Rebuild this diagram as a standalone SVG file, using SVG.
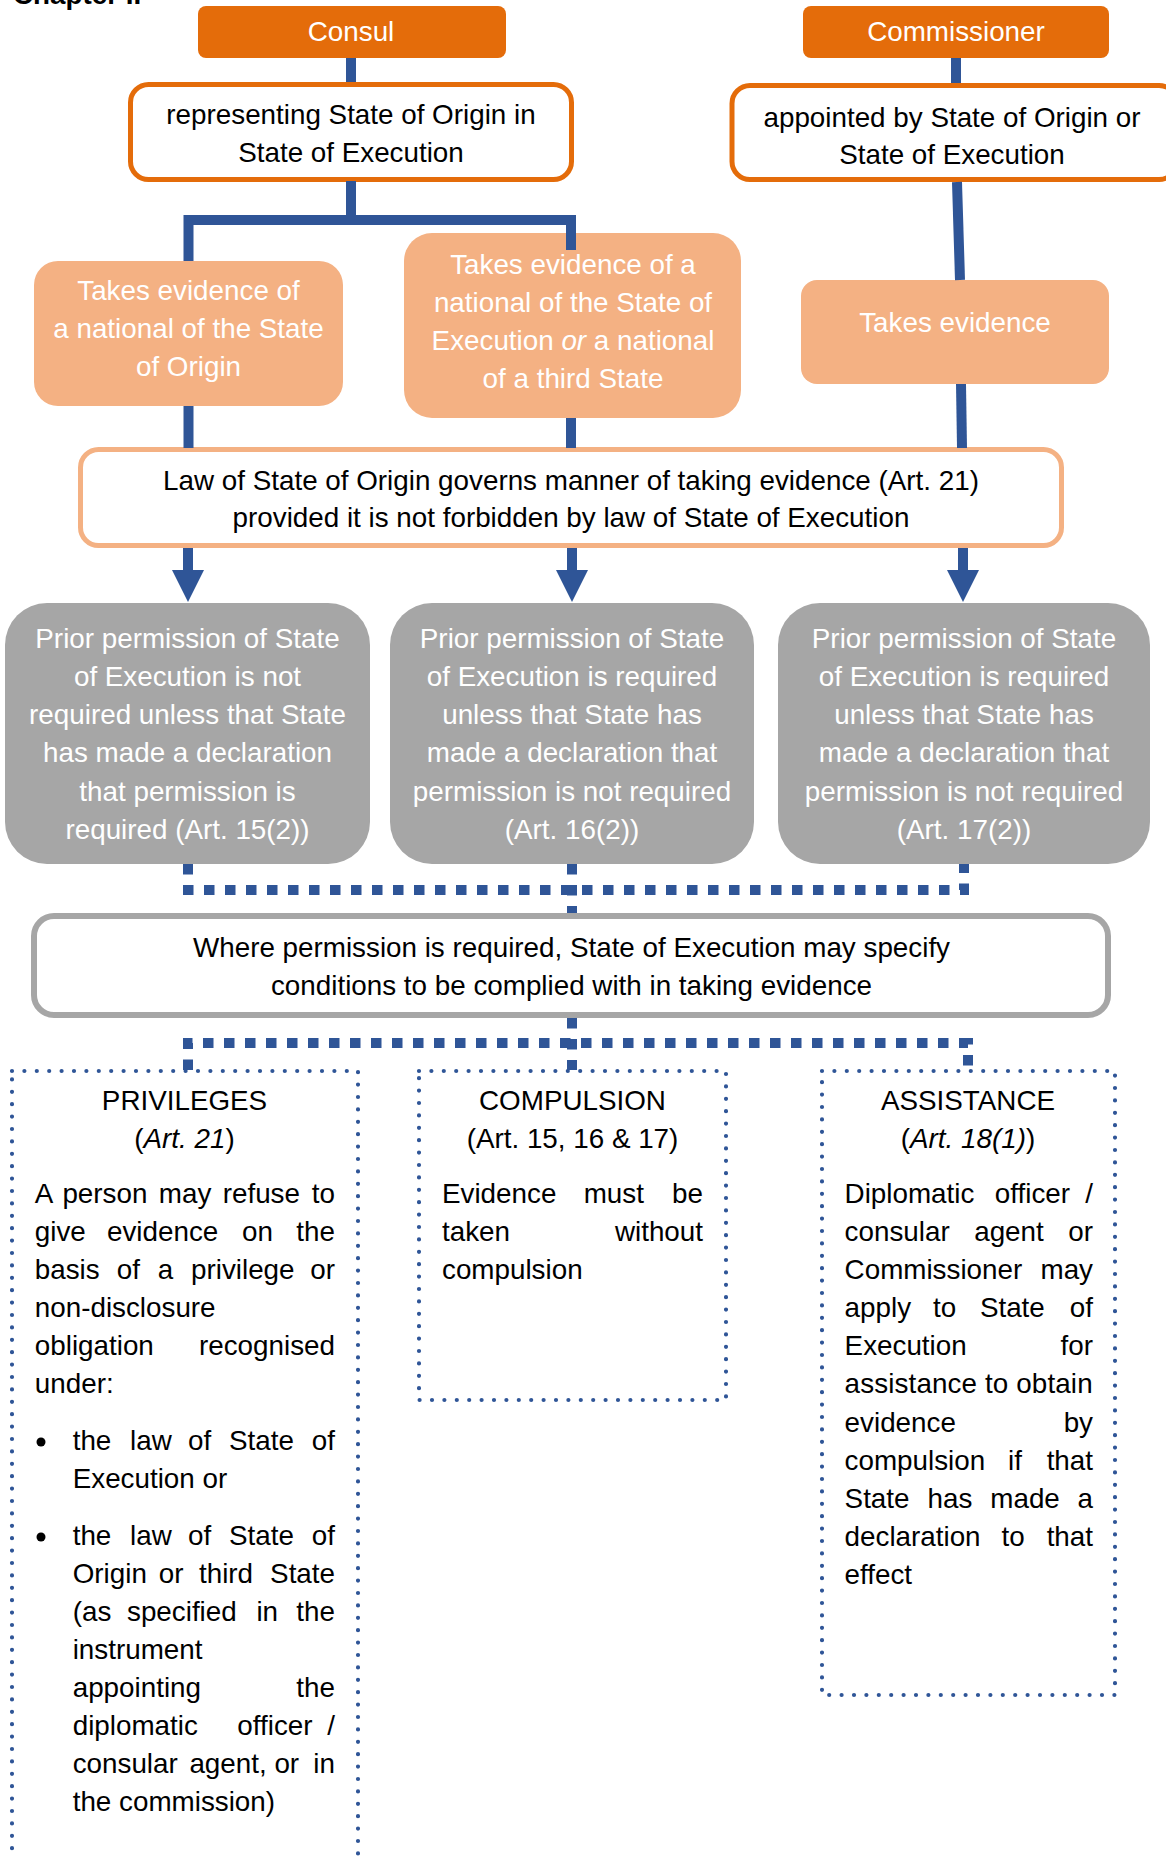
<svg xmlns="http://www.w3.org/2000/svg" width="1166" height="1858" viewBox="0 0 1166 1858">
<style>
.t{font-family:"Liberation Sans",Arial,sans-serif;font-size:27.8px;fill:#000}
.w{fill:#fff}
.c{text-anchor:middle}
.e{text-anchor:end}
.i{font-style:italic}
.orange{fill:#E46C0A}
.ob{fill:#fff;stroke:#E46C0A;stroke-width:5}
.peach{fill:#F4B183}
.pb{fill:#fff;stroke:#F4B183;stroke-width:5}
.gray{fill:#A6A6A6}
.gb{fill:#fff;stroke:#A6A6A6;stroke-width:6}
.dot{fill:none;stroke:#2F5597;stroke-width:4.2;stroke-linecap:round;stroke-dasharray:0 12.4}
.conn{fill:none;stroke:#2F5597;stroke-width:10;stroke-linejoin:miter}
.sq{fill:none;stroke:#2F5597;stroke-width:10;stroke-dasharray:10.5 10.5}
</style>
<defs>
<marker id="arr" viewBox="0 0 32 32" refX="0" refY="16" markerWidth="3.2" markerHeight="3.2" orient="auto" markerUnits="strokeWidth">
<path d="M0 0 L32 16 L0 32 z" fill="#2F5597"/>
</marker>
</defs>
<rect width="1166" height="1858" fill="#fff"/>
<text class="t" x="13" y="4" style="font-weight:bold">Chapter II</text>

<g id="consul">
<rect class="orange" x="198" y="6" width="308" height="52" rx="8"/>
<text class="t w c" x="351" y="41">Consul</text>
</g>
<g id="commissioner">
<rect class="orange" x="803" y="6" width="306" height="52" rx="8"/>
<text class="t w c" x="956" y="41">Commissioner</text>
</g>
<g id="representing">
<rect class="ob" x="130.5" y="84.5" width="441" height="95" rx="18"/>
<text class="t c" x="351" y="124">representing State of Origin in</text>
<text class="t c" x="351" y="162">State of Execution</text>
</g>
<g id="appointed">
<rect class="ob" x="732" y="85.5" width="445" height="94" rx="18"/>
<text class="t c" x="952" y="127">appointed by State of Origin or</text>
<text class="t c" x="952" y="164">State of Execution</text>
</g>
<g id="takes-origin">
<rect class="peach" x="34" y="261" width="309" height="145" rx="24"/>
<text class="t w c" x="188.5" y="300">Takes evidence of</text>
<text class="t w c" x="188.5" y="338">a national of the State</text>
<text class="t w c" x="188.5" y="376">of Origin</text>
</g>
<g id="takes-execution">
<rect class="peach" x="404" y="233" width="337" height="185" rx="28"/>
<text class="t w c" x="573" y="274">Takes evidence of a</text>
<text class="t w c" x="573" y="312">national of the State of</text>
<text class="t w c" x="573" y="350">Execution <tspan class="i">or</tspan> a national</text>
<text class="t w c" x="573" y="388">of a third State</text>
</g>
<g id="takes-evidence">
<rect class="peach" x="801" y="280" width="308" height="104" rx="16"/>
<text class="t w c" x="955" y="332">Takes evidence</text>
</g>
<g id="law">
<rect class="pb" x="80.5" y="449.5" width="981" height="96" rx="18"/>
<text class="t c" x="571" y="490">Law of State of Origin governs manner of taking evidence (Art. 21)</text>
<text class="t c" x="571" y="527">provided it is not forbidden by law of State of Execution</text>
</g>
<g id="perm15">
<rect class="gray" x="5" y="603" width="365" height="261" rx="42"/>
<text class="t w c" x="187.5" y="648">Prior permission of State</text>
<text class="t w c" x="187.5" y="686">of Execution is not</text>
<text class="t w c" x="187.5" y="724">required unless that State</text>
<text class="t w c" x="187.5" y="762">has made a declaration</text>
<text class="t w c" x="187.5" y="801">that permission is</text>
<text class="t w c" x="187.5" y="839">required (Art. 15(2))</text>
</g>
<g id="perm16">
<rect class="gray" x="390" y="603" width="364" height="261" rx="42"/>
<text class="t w c" x="572" y="648">Prior permission of State</text>
<text class="t w c" x="572" y="686">of Execution is required</text>
<text class="t w c" x="572" y="724">unless that State has</text>
<text class="t w c" x="572" y="762">made a declaration that</text>
<text class="t w c" x="572" y="801">permission is not required</text>
<text class="t w c" x="572" y="839">(Art. 16(2))</text>
</g>
<g id="perm17">
<rect class="gray" x="778" y="603" width="372" height="261" rx="42"/>
<text class="t w c" x="964" y="648">Prior permission of State</text>
<text class="t w c" x="964" y="686">of Execution is required</text>
<text class="t w c" x="964" y="724">unless that State has</text>
<text class="t w c" x="964" y="762">made a declaration that</text>
<text class="t w c" x="964" y="801">permission is not required</text>
<text class="t w c" x="964" y="839">(Art. 17(2))</text>
</g>
<g id="conditions">
<rect class="gb" x="34" y="916" width="1074" height="99" rx="20"/>
<text class="t c" x="571.5" y="957">Where permission is required, State of Execution may specify</text>
<text class="t c" x="571.5" y="995">conditions to be complied with in taking evidence</text>
</g>
<g id="privileges">
<rect class="dot" x="12" y="1071" width="346" height="830"/>
<text class="t c" x="184.5" y="1110">PRIVILEGES</text>
<text class="t c" x="184.5" y="1148">(<tspan class="i">Art. 21</tspan>)</text>
<text class="t" y="1203"><tspan x="34.8">A</tspan><tspan x="62.4">person</tspan><tspan x="158.8">may</tspan><tspan x="222.7">refuse</tspan></text>
<text class="t e" x="335" y="1203">to</text>
<text class="t" y="1241"><tspan x="34.8">give</tspan><tspan x="107">evidence</tspan><tspan x="242">on</tspan></text>
<text class="t e" x="335" y="1241">the</text>
<text class="t" y="1279"><tspan x="34.8">basis</tspan><tspan x="116.7">of</tspan><tspan x="157.7">a</tspan><tspan x="191">privilege</tspan></text>
<text class="t e" x="335" y="1279">or</text>
<text class="t" x="34.8" y="1317">non-disclosure</text>
<text class="t" x="34.8" y="1355">obligation</text>
<text class="t e" x="335" y="1355">recognised</text>
<text class="t" x="34.8" y="1393">under:</text>
<circle cx="41" cy="1442" r="4.5" fill="#000"/>
<text class="t" y="1450"><tspan x="72.7">the</tspan><tspan x="130">law</tspan><tspan x="188">of</tspan><tspan x="229">State</tspan></text>
<text class="t e" x="335" y="1450">of</text>
<text class="t" x="72.7" y="1488">Execution or</text>
<circle cx="41" cy="1537" r="4.5" fill="#000"/>
<text class="t" y="1545"><tspan x="72.7">the</tspan><tspan x="130">law</tspan><tspan x="188">of</tspan><tspan x="229">State</tspan></text>
<text class="t e" x="335" y="1545">of</text>
<text class="t" y="1583"><tspan x="72.7">Origin</tspan><tspan x="158.8">or</tspan><tspan x="199">third</tspan></text>
<text class="t e" x="335" y="1583">State</text>
<text class="t" y="1621"><tspan x="72.7">(as</tspan><tspan x="127">specified</tspan><tspan x="256.4">in</tspan></text>
<text class="t e" x="335" y="1621">the</text>
<text class="t" x="72.7" y="1659">instrument</text>
<text class="t" x="72.7" y="1697">appointing</text>
<text class="t e" x="335" y="1697">the</text>
<text class="t" y="1735"><tspan x="72.7">diplomatic</tspan><tspan x="237.3">officer</tspan></text>
<text class="t e" x="335" y="1735">/</text>
<text class="t" y="1773"><tspan x="72.7">consular</tspan><tspan x="189.4">agent,</tspan><tspan x="274.4">or</tspan></text>
<text class="t e" x="335" y="1773">in</text>
<text class="t" x="72.7" y="1811">the commission)</text>
</g>
<g id="compulsion">
<rect class="dot" x="419" y="1071" width="307" height="329"/>
<text class="t c" x="572.5" y="1110">COMPULSION</text>
<text class="t c" x="572.5" y="1148">(Art. 15, 16 &amp; 17)</text>
<text class="t" y="1203"><tspan x="442">Evidence</tspan><tspan x="583.7">must</tspan></text>
<text class="t e" x="703" y="1203">be</text>
<text class="t" x="442" y="1241">taken</text>
<text class="t e" x="703" y="1241">without</text>
<text class="t" x="442" y="1279">compulsion</text>
</g>
<g id="assistance">
<rect class="dot" x="822" y="1071" width="293" height="624"/>
<text class="t c" x="968" y="1110">ASSISTANCE</text>
<text class="t c" x="968" y="1148">(<tspan class="i">Art. 18(1)</tspan>)</text>
<text class="t" y="1203"><tspan x="844.6">Diplomatic</tspan><tspan x="994.8">officer</tspan></text>
<text class="t e" x="1093" y="1203">/</text>
<text class="t" y="1241"><tspan x="844.6">consular</tspan><tspan x="974.2">agent</tspan></text>
<text class="t e" x="1093" y="1241">or</text>
<text class="t" x="844.6" y="1279">Commissioner</text>
<text class="t e" x="1093" y="1279">may</text>
<text class="t" y="1317"><tspan x="844.6">apply</tspan><tspan x="933">to</tspan><tspan x="979.9">State</tspan></text>
<text class="t e" x="1093" y="1317">of</text>
<text class="t" x="844.6" y="1355">Execution</text>
<text class="t e" x="1093" y="1355">for</text>
<text class="t" x="844.6" y="1393" textLength="248" lengthAdjust="spacing">assistance to obtain</text>
<text class="t" x="844.6" y="1432">evidence</text>
<text class="t e" x="1093" y="1432">by</text>
<text class="t" y="1470"><tspan x="844.6">compulsion</tspan><tspan x="1008">if</tspan></text>
<text class="t e" x="1093" y="1470">that</text>
<text class="t" y="1508"><tspan x="844.6">State</tspan><tspan x="927.5">has</tspan><tspan x="990.3">made</tspan></text>
<text class="t e" x="1093" y="1508">a</text>
<text class="t" y="1546"><tspan x="844.6">declaration</tspan><tspan x="1001.5">to</tspan></text>
<text class="t e" x="1093" y="1546">that</text>
<text class="t" x="844.6" y="1584">effect</text>
</g>

<g id="connectors">
<path class="conn" d="M351 58 V82"/>
<path class="conn" d="M956 58 V83"/>
<path class="conn" d="M351 181 V220"/>
<path class="conn" d="M188.5 261 V220 H571 V250"/>
<path class="conn" d="M957 182 L960 280"/>
<path class="conn" d="M188.5 406 V448"/>
<path class="conn" d="M571 418 V448"/>
<path class="conn" d="M961 384 L962 448"/>
<path class="conn" d="M188 548 V570" marker-end="url(#arr)"/>
<path class="conn" d="M572 548 V570" marker-end="url(#arr)"/>
<path class="conn" d="M963 548 V570" marker-end="url(#arr)"/>
<path class="sq" d="M188 864 V890 H964 V864"/>
<path class="sq" d="M572 864 V913"/>
<path class="sq" d="M572 1018 V1070"/>
<path class="sq" d="M188 1070 V1043 H968 V1070"/>
</g>
</svg>
